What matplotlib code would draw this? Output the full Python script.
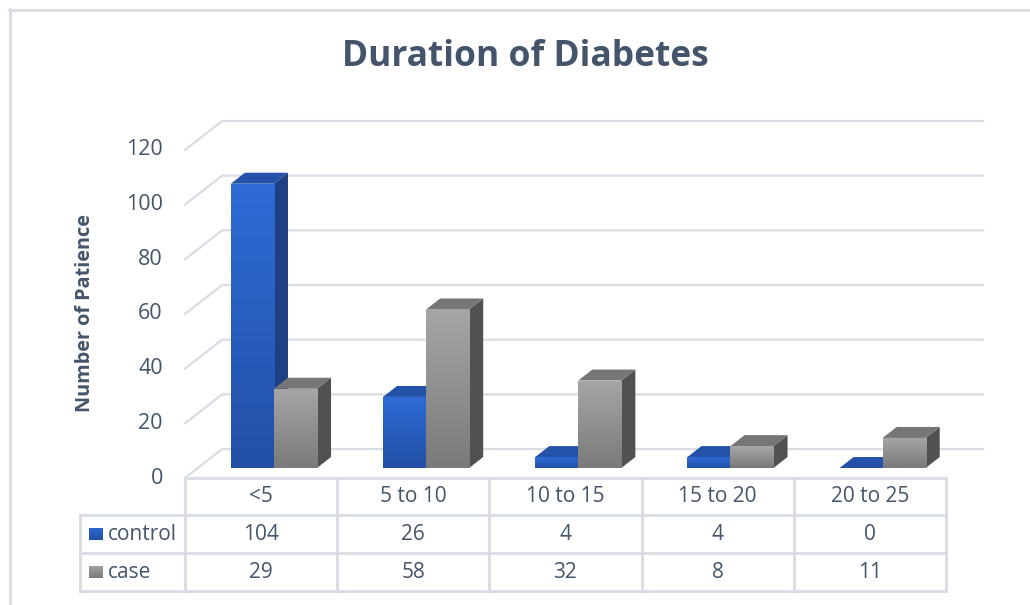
import numpy as np
import matplotlib
matplotlib.use('Agg')
import matplotlib.pyplot as plt
from matplotlib.patches import Polygon
from matplotlib.colors import LinearSegmentedColormap
from matplotlib.transforms import blended_transform_factory

# dados do grafico
categorias = ['<5', '5 to 10', '10 to 15', '15 to 20', '20 to 25']
control = [104, 26, 4, 4, 0]
case = [29, 58, 32, 8, 11]
series_names = ['control', 'case']
yticks = [0, 20, 40, 60, 80, 100, 120]

plt.rcParams['font.family'] = ['Open Sans', 'DejaVu Sans']
txt_c = '#44546A'
grid_c = '#D9DCE3'

# cores: (frente baixo, frente topo, lado, topo)
cores = {
    'control': ('#2350A6', '#2E6BD6', '#1E3F80', '#2452A8'),
    'case': ('#7A7A7A', '#A6A6A6', '#515151', '#767676'),
}

W_PX, H_PX = 1030, 605
fig = plt.figure(figsize=(W_PX / 100, H_PX / 100), dpi=100)


def fx(p):
    return p / W_PX


def fy(p):
    return 1 - p / H_PX


# moldura externa
fig.add_artist(plt.Line2D([fx(9.5), fx(9.5)], [fy(9), 0], color=grid_c, lw=2))
fig.add_artist(plt.Line2D([fx(9), 1], [fy(9.5), fy(9.5)], color=grid_c, lw=2))

# area do grafico (canto frontal esquerdo ate canto traseiro superior direito)
ax = fig.add_axes([fx(185), fy(478), fx(983) - fx(185), fy(121) - fy(478)])
ax.axis('off')
DX = 0.244   # profundidade em unidades de categoria
DY = 10.6    # profundidade em unidades de valor
n = len(categorias)

# linhas de grade em perspectiva e rotulos do eixo y
for v in yticks:
    ax.plot([-0.5, -0.5 + DX, n - 0.5 + DX], [v, v + DY, v + DY],
            color=grid_c, lw=1.6, clip_on=False, zorder=1)
    ax.annotate(str(v), (-0.5, v), xytext=(-16, 0), textcoords='offset points',
                ha='right', va='center', fontsize=15.5, color=txt_c)

# barras "3D"
Z0, Z1 = 0.345, 0.724
BW = 0.283
ddx = (Z1 - Z0) * DX
ddy = (Z1 - Z0) * DY
base = Z0 * DY
grad = np.linspace(0, 1, 256).reshape(-1, 1)

for i in range(n):
    for s, vals in enumerate([control, case]):
        nome = series_names[s]
        c_bot, c_top, c_side, c_topf = cores[nome]
        v = vals[i]
        xl = i - BW + s * BW + Z0 * DX
        xr = xl + BW
        # lado
        ax.add_patch(Polygon([(xr, base), (xr + ddx, base + ddy), (xr + ddx, base + v + ddy), (xr, base + v)],
                             closed=True, facecolor=c_side, edgecolor='none', zorder=2 + i * 10 + s * 3))
        # topo
        ax.add_patch(Polygon([(xl, base + v), (xr, base + v), (xr + ddx, base + v + ddy), (xl + ddx, base + v + ddy)],
                             closed=True, facecolor=c_topf, edgecolor='none', zorder=3 + i * 10 + s * 3))
        # frente com gradiente
        barra = ax.bar(xl, v, width=BW, bottom=base, align='edge', color=c_bot,
                       edgecolor='none', zorder=4 + i * 10 + s * 3)[0]
        if v > 0:
            cmap = LinearSegmentedColormap.from_list(nome, [c_bot, c_top])
            im = ax.imshow(grad, extent=[xl, xr, base, base + v], origin='lower', aspect='auto',
                           cmap=cmap, zorder=4.5 + i * 10 + s * 3)
            im.set_clip_path(barra)

ax.set_xlim(-0.5, n - 0.5 + DX)
ax.set_ylim(0, 120 + DY)

# tabela de dados
tr = blended_transform_factory(ax.transData, fig.transFigure)
x_lab = -0.5 - 105 / 152.2
linhas_y = [478, 515, 553, 591]
kw = dict(color=grid_c, lw=2, transform=tr, clip_on=False, zorder=0)
ax.plot([-0.5, n - 0.5], [fy(478)] * 2, **kw)
for p in linhas_y[1:]:
    ax.plot([x_lab, n - 0.5], [fy(p)] * 2, **kw)
for k in range(n + 1):
    ax.plot([k - 0.5] * 2, [fy(478), fy(591)], **kw)
ax.plot([x_lab] * 2, [fy(515), fy(591)], **kw)

fs_tab = 15
for i, cat in enumerate(categorias):
    ax.text(i, fy(497), cat, transform=tr, ha='center', va='center', fontsize=fs_tab, color=txt_c)
    ax.text(i, fy(534), str(control[i]), transform=tr, ha='center', va='center', fontsize=fs_tab, color=txt_c)
    ax.text(i, fy(572), str(case[i]), transform=tr, ha='center', va='center', fontsize=fs_tab, color=txt_c)

# chaves da legenda dentro da tabela
for s, (nome, yc) in enumerate(zip(series_names, [534, 572])):
    c_bot, c_top, _, _ = cores[nome]
    ax_k = fig.add_axes([fx(89), fy(yc + 6.5), fx(14), 13 / H_PX])
    ax_k.axis('off')
    ax_k.imshow(grad, origin='lower', aspect='auto',
                cmap=LinearSegmentedColormap.from_list(nome + 'k', [c_bot, c_top]))
    fig.text(fx(108), fy(yc), nome, ha='left', va='center', fontsize=fs_tab, color=txt_c)

# titulo e rotulo do eixo
fig.text(fx(525), fy(57), 'Duration of Diabetes', ha='center', va='center',
         fontsize=25.5, fontweight='bold', color=txt_c)
fig.text(fx(85), fy(313), 'Number of Patience', ha='center', va='center', rotation=90,
         fontsize=14.3, fontweight='bold', color=txt_c)

fig.savefig('out.png', dpi=100)
